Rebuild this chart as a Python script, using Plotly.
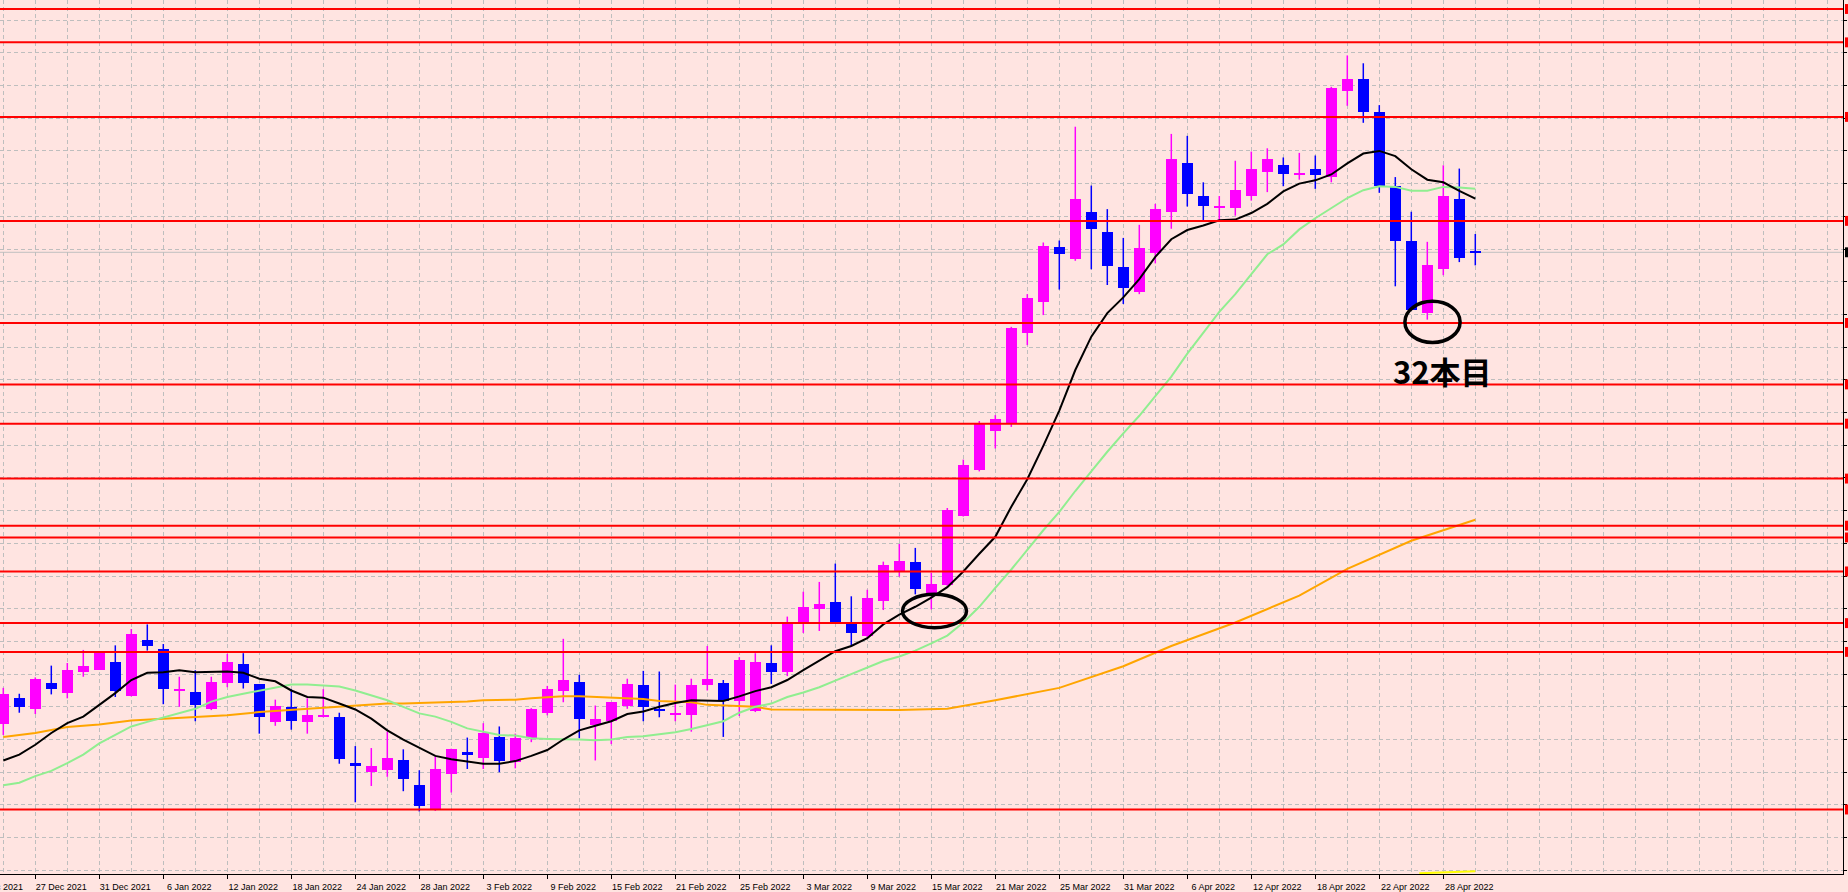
import datetime
import numpy as np
import plotly.graph_objects as go

# ---------------- data (daily bars, weekdays only) ----------------
first_bar_date = "2021-12-23"

opens = [91.24, 91.63, 91.46, 91.87, 91.71, 92.03, 92.07, 92.19, 91.66, 92.52,
         92.38, 91.75, 91.72, 91.46, 91.87, 92.16, 91.85, 91.27, 91.50, 91.27,
         91.34, 91.34, 90.64, 90.51, 90.54, 90.69, 90.31, 89.92, 90.48, 90.81,
         90.72, 91.04, 90.66, 91.02, 91.40, 91.74, 91.88, 91.22, 91.28, 91.52,
         91.84, 91.47, 91.37, 91.38, 91.83, 91.87, 91.59, 91.43, 92.17, 92.03,
         92.79, 92.99, 93.11, 92.77, 92.58, 93.12, 93.58, 93.72, 93.23, 93.36,
         94.42, 95.12, 95.71, 95.83, 97.21, 97.69, 98.53, 98.34, 99.07, 98.76,
         98.22, 97.84, 98.44, 99.07, 99.81, 99.31, 99.13, 99.13, 99.31, 99.68,
         99.79, 99.63, 99.72, 99.60, 100.92, 101.10, 100.60, 99.47, 98.63, 97.52,
         98.19, 99.26, 98.46]
highs = [91.79, 91.70, 91.95, 92.13, 92.17, 92.37, 92.33, 92.44, 92.69, 92.76,
         92.46, 91.96, 92.06, 91.96, 92.31, 92.32, 91.85, 91.61, 91.77, 91.63,
         91.77, 91.41, 90.90, 90.87, 91.12, 90.85, 90.53, 90.74, 90.86, 91.03,
         91.25, 91.20, 91.09, 91.48, 91.82, 92.54, 91.99, 91.52, 91.57, 91.93,
         92.05, 92.04, 91.84, 91.93, 92.43, 91.91, 92.26, 92.32, 92.44, 92.88,
         93.26, 93.41, 93.69, 93.19, 93.29, 93.72, 93.99, 93.93, 93.55, 94.54,
         95.28, 95.87, 95.96, 97.31, 97.81, 98.60, 98.63, 100.37, 99.47, 99.11,
         98.67, 98.87, 99.19, 100.26, 100.23, 99.52, 99.31, 99.85, 99.99, 100.04,
         99.90, 99.97, 99.93, 100.98, 101.46, 101.34, 100.70, 99.60, 99.07, 98.61,
         99.78, 99.73, 98.73]
lows = [91.07, 91.41, 91.39, 91.69, 91.63, 91.96, 92.07, 91.65, 91.66, 92.36,
        91.54, 91.50, 91.28, 91.45, 91.80, 91.78, 91.09, 91.21, 91.15, 91.09,
        91.34, 90.63, 90.04, 90.29, 90.43, 90.21, 89.90, 89.91, 90.19, 90.55,
        90.55, 90.50, 90.56, 90.96, 91.37, 91.57, 91.02, 90.68, 90.93, 91.47,
        91.28, 91.34, 91.28, 91.12, 91.75, 91.04, 91.36, 91.42, 91.85, 91.97,
        92.63, 92.66, 92.79, 92.43, 92.56, 92.98, 93.49, 93.22, 92.99, 93.35,
        94.41, 95.10, 95.45, 95.78, 97.03, 97.49, 97.88, 98.32, 98.19, 97.95,
        97.66, 97.81, 98.28, 98.81, 99.15, 98.94, 98.94, 99.01, 99.24, 99.37,
        99.46, 99.56, 99.42, 99.52, 100.69, 100.43, 99.36, 97.93, 97.57, 97.42,
        98.10, 98.30, 98.25]
closes = [91.70, 91.49, 91.93, 91.78, 92.07, 92.13, 92.33, 91.74, 92.61, 92.43,
          91.78, 91.78, 91.53, 91.88, 92.19, 91.87, 91.34, 91.52, 91.28, 91.37,
          91.38, 90.71, 90.60, 90.60, 90.72, 90.39, 89.98, 90.55, 90.85, 90.77,
          91.10, 90.67, 91.02, 91.47, 91.78, 91.91, 91.31, 91.31, 91.57, 91.85,
          91.50, 91.45, 91.41, 91.84, 91.93, 91.59, 92.22, 92.19, 92.04, 92.77,
          93.02, 93.08, 92.79, 92.63, 93.17, 93.67, 93.73, 93.30, 93.38, 94.51,
          95.20, 95.82, 95.90, 97.30, 97.75, 98.55, 98.43, 99.26, 98.81, 98.24,
          97.90, 98.52, 99.11, 99.87, 99.34, 99.16, 99.16, 99.40, 99.73, 99.88,
          99.65, 99.67, 99.63, 100.96, 101.10, 100.59, 99.47, 98.62, 97.57, 98.26,
          99.31, 98.37, 98.45]

# moving averages (value per bar)
ma_fast = [90.68, 90.77, 90.92, 91.10, 91.25, 91.35, 91.53, 91.71, 91.91, 92.02,
           92.03, 92.06, 92.03, 92.03, 92.04, 92.02, 91.93, 91.89, 91.75, 91.65,
           91.64, 91.55, 91.46, 91.32, 91.14, 91.00, 90.87, 90.75, 90.70, 90.66,
           90.63, 90.63, 90.67, 90.75, 90.84, 91.00, 91.14, 91.21, 91.28, 91.39,
           91.43, 91.50, 91.56, 91.60, 91.60, 91.59, 91.66, 91.74, 91.80, 91.91,
           92.06, 92.21, 92.35, 92.43, 92.55, 92.76, 92.91, 93.03, 93.17, 93.33,
           93.57, 93.84, 94.10, 94.56, 94.98, 95.49, 96.03, 96.65, 97.16, 97.52,
           97.76, 98.04, 98.38, 98.65, 98.79, 98.86, 98.94, 98.95, 99.05, 99.19,
           99.38, 99.50, 99.55, 99.64, 99.81, 99.96, 100.00, 99.92, 99.72, 99.56,
           99.52, 99.39, 99.27]
ma_mid = [90.30, 90.34, 90.44, 90.52, 90.64, 90.77, 90.94, 91.07, 91.20, 91.27,
          91.34, 91.40, 91.47, 91.58, 91.65, 91.70, 91.75, 91.80, 91.84, 91.84,
          91.83, 91.81, 91.75, 91.68, 91.60, 91.50, 91.40, 91.35, 91.27, 91.17,
          91.12, 91.07, 91.06, 91.02, 91.01, 91.01, 91.00, 90.99, 91.00, 91.04,
          91.05, 91.08, 91.11, 91.16, 91.22, 91.28, 91.41, 91.50, 91.55, 91.65,
          91.72, 91.80, 91.90, 92.00, 92.10, 92.20, 92.27, 92.36, 92.47, 92.59,
          92.79, 93.03, 93.32, 93.60, 93.90, 94.20, 94.48, 94.80, 95.10, 95.40,
          95.68, 95.95, 96.25, 96.55, 96.90, 97.22, 97.54, 97.81, 98.12, 98.42,
          98.57, 98.80, 98.97, 99.13, 99.28, 99.40, 99.46, 99.45, 99.39, 99.39,
          99.45, 99.44, 99.42]
ma_slow_bar = [0, 2, 4, 6, 8, 10, 12, 14, 16, 18, 20, 22, 24, 25, 27, 29, 30, 32,
               33, 35, 36, 37, 38, 39, 40, 41, 42, 43, 44, 45, 46, 47, 48, 49, 50,
               56, 59, 62, 66, 70, 73, 77, 81, 84, 88, 92]
ma_slow = [91.04, 91.10, 91.19, 91.23, 91.29, 91.32, 91.34, 91.37, 91.42, 91.45,
           91.48, 91.51, 91.55, 91.55, 91.56, 91.58, 91.60, 91.61, 91.63, 91.66,
           91.66, 91.65, 91.65, 91.63, 91.62, 91.59, 91.58, 91.57, 91.53, 91.52,
           91.51, 91.50, 91.46, 91.46, 91.46, 91.45, 91.47, 91.60, 91.79, 92.12,
           92.43, 92.79, 93.20, 93.61, 94.04, 94.36]

level_lines = [102.17, 101.66, 100.52, 98.93, 97.37, 96.43, 95.83, 94.99, 94.27,
               94.09, 93.57, 92.78, 92.34, 89.93]
bid_price = 98.45

tick_labels = ["21 Dec 2021", "27 Dec 2021", "31 Dec 2021", "6 Jan 2022", "12 Jan 2022",
               "18 Jan 2022", "24 Jan 2022", "28 Jan 2022", "3 Feb 2022", "9 Feb 2022",
               "15 Feb 2022", "21 Feb 2022", "25 Feb 2022", "3 Mar 2022", "9 Mar 2022",
               "15 Mar 2022", "21 Mar 2022", "25 Mar 2022", "31 Mar 2022", "6 Apr 2022",
               "12 Apr 2022", "18 Apr 2022", "22 Apr 2022", "28 Apr 2022"]

# annotation marks: (bar index range, price range)
ellipse_marks = [((56.2, 60.2), (92.71, 93.22)), ((87.6, 91.05), (97.07, 97.70))]
note_text = "32本目"
note_pos = (89.95, 96.65)
yellow_bars = [88.5, 92.0]
yellow_vals = [88.955, 88.985]

# ---------------- styling constants ----------------
BG = "#FFE4E1"
GRID = "#BEBEBE"
BULL = "#FF00FF"
BEAR = "#0000FF"
W, H = 1848, 892
M_L, M_R, M_T, M_B = 0, 5, 0, 10
PX_PER_BAR = 16.0
PX_PER_UNIT = 66.0
plot_w = W - M_L - M_R
plot_h = H - M_T - M_B
x_min = -3.3 / PX_PER_BAR
x_max = x_min + plot_w / PX_PER_BAR
y_max = 102.0 + 20.3 / PX_PER_UNIT
y_min = y_max - plot_h / PX_PER_UNIT

n = len(opens)
idx = np.arange(n)
o = np.array(opens); c = np.array(closes); hi = np.array(highs); lo = np.array(lows)
bull = c >= o
colors = [BULL if b else BEAR for b in bull]
min_body = 0.025
body_h = np.maximum(np.abs(c - o), min_body)
body_mid = (o + c) / 2
body_base = body_mid - body_h / 2

tick_idx = [int(np.busday_count(first_bar_date,
                                datetime.datetime.strptime(t, "%d %b %Y").date().isoformat()))
            for t in tick_labels]

fig = go.Figure()

# wicks
for flag, col in ((True, BULL), (False, BEAR)):
    wx, wy = [], []
    for i in idx[bull == flag]:
        wx += [i, i, None]
        wy += [lo[i], hi[i], None]
    fig.add_trace(go.Scatter(x=wx, y=wy, mode="lines", line=dict(color=col, width=1.5),
                             hoverinfo="skip", showlegend=False))

# bodies
fig.add_trace(go.Bar(x=idx, y=body_h, base=body_base, width=0.7,
                     marker=dict(color=colors, line=dict(width=0)), showlegend=False,
                     customdata=np.stack([o, hi, lo, c], axis=1),
                     hovertemplate="O %{customdata[0]}<br>H %{customdata[1]}<br>L %{customdata[2]}<br>C %{customdata[3]}<extra></extra>"))

# moving averages
fig.add_trace(go.Scatter(x=ma_slow_bar, y=ma_slow, mode="lines",
                         line=dict(color="#FFA500", width=2), showlegend=False))
fig.add_trace(go.Scatter(x=idx, y=ma_mid, mode="lines",
                         line=dict(color="#90EE90", width=2), showlegend=False))
fig.add_trace(go.Scatter(x=idx, y=ma_fast, mode="lines",
                         line=dict(color="#000000", width=2), showlegend=False))
fig.add_trace(go.Scatter(x=yellow_bars, y=yellow_vals, mode="lines",
                         line=dict(color="#FFFF00", width=2), showlegend=False))

shapes = []
# bid line
shapes.append(dict(type="line", xref="paper", x0=0, x1=1, yref="y", y0=bid_price, y1=bid_price,
                   line=dict(color="#C0C0C0", width=1), layer="below"))
shapes.append(dict(type="rect", xref="paper", x0=1 + 2 / plot_w, x1=1 + 8 / plot_w, yref="y",
                   y0=bid_price - 5 / PX_PER_UNIT, y1=bid_price + 5 / PX_PER_UNIT,
                   fillcolor="#000000", line=dict(width=0)))
for lv in level_lines:
    shapes.append(dict(type="line", xref="paper", x0=0, x1=1, yref="y", y0=lv, y1=lv,
                       line=dict(color="#FF0000", width=2), layer="above"))
    shapes.append(dict(type="rect", xref="paper", x0=1 + 2 / plot_w, x1=1 + 8 / plot_w, yref="y",
                       y0=lv - 5 / PX_PER_UNIT, y1=lv + 5 / PX_PER_UNIT,
                       fillcolor="#FF0000", line=dict(width=0)))
for (bx, py) in ellipse_marks:
    shapes.append(dict(type="circle", xref="x", yref="y", x0=bx[0], x1=bx[1], y0=py[0], y1=py[1],
                       line=dict(color="#000000", width=3.5), layer="above"))

annotations = [dict(x=note_pos[0], y=note_pos[1], xref="x", yref="y", showarrow=False,
                    text="<b>" + note_text + "</b>",
                    font=dict(family="Noto Sans CJK JP", size=31, color="#000000"))]

LABEL_SHIFT = 26
in_range = [(t, l) for t, l in zip(tick_idx, tick_labels) if x_min <= t <= x_max]
out_range = [(t, l) for t, l in zip(tick_idx, tick_labels) if not (x_min <= t <= x_max)]
for t, l in out_range:
    annotations.append(dict(x=(t - x_min) / (x_max - x_min), y=0, xref="paper", yref="paper",
                            xanchor="center", yanchor="top", xshift=LABEL_SHIFT, yshift=-6,
                            showarrow=False, text=l,
                            font=dict(family="Liberation Sans", size=9, color="#000000")))

minor_vals = [v for v in range(0, int(x_max) + 1, 2) if v not in tick_idx]

fig.update_layout(
    width=W, height=H, autosize=False,
    margin=dict(l=M_L, r=M_R, t=M_T, b=M_B, pad=0),
    paper_bgcolor=BG, plot_bgcolor=BG,
    showlegend=False, bargap=0,
    shapes=shapes, annotations=annotations,
    xaxis=dict(range=[x_min, x_max], showgrid=True, gridcolor=GRID, gridwidth=1,
               griddash="4px,3px", zeroline=False,
               tickmode="array", tickvals=[t for t, _ in in_range], ticktext=[l for _, l in in_range],
               ticks="outside", ticklen=4, tickcolor="#000000", tickwidth=1,
               ticklabelshift=LABEL_SHIFT,
               tickfont=dict(family="Liberation Sans", size=9, color="#000000"),
               showline=True, linecolor="#000000", linewidth=1,
               minor=dict(tickmode="array", tickvals=minor_vals, showgrid=True, gridcolor=GRID,
                          gridwidth=1, griddash="4px,3px", ticks="")),
    yaxis=dict(range=[y_min, y_max], side="right", tick0=89.0, dtick=0.5,
               showgrid=True, gridcolor=GRID, gridwidth=1, griddash="4px,3px", zeroline=False,
               ticks="outside", ticklen=3, tickcolor="#000000", showticklabels=False,
               showline=True, linecolor="#000000", linewidth=1),
)

fig.write_html("out.html", config={"displayModeBar": False},
               post_script="document.body.style.margin='0';document.body.style.overflow='hidden';")
